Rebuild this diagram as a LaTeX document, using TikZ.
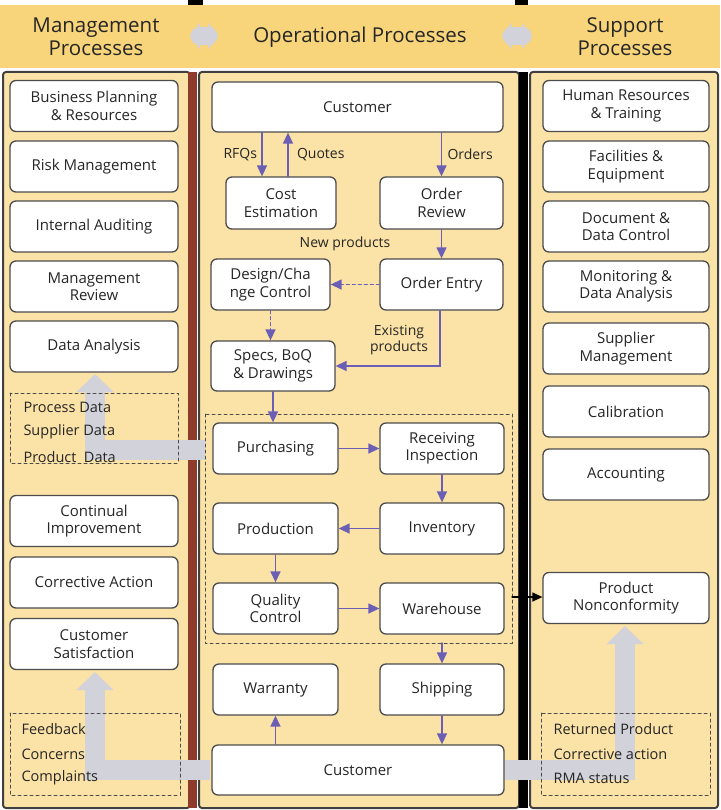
\documentclass[tikz,border=0pt]{standalone}
\usepackage{fontspec}
\setmainfont{Open Sans}
\usetikzlibrary{arrows.meta}
\definecolor{bandyellow}{HTML}{F8D57A}
\definecolor{coly}{HTML}{FBE2A6}
\definecolor{flow}{HTML}{6B5FB5}
\definecolor{greyarrow}{HTML}{D2D2DA}
\definecolor{brownbar}{HTML}{8E3B2C}
\begin{document}
\begin{tikzpicture}
		[x=1pt,y=-1pt,line cap=round,
		%Styles
		column/.style={fill=coly,draw=black!75,line width=2pt,rounded corners=3},
		head text/.style={font=\fontsize{20.5}{23}\selectfont,align=center,text=black!85},
		step box/.style={draw=black!70,line width=1.3pt,fill=white,rounded corners=6,
			align=center,inner sep=1pt,font=\fontsize{15}{17.5}\selectfont,text=black!85},
		data box/.style={draw=black!70,dashed,line width=1pt},
		data text/.style={anchor=west,font=\fontsize{14.5}{16}\selectfont,text=black!85},
		flow/.style={-{Triangle[length=11pt,width=10pt]},draw=flow,line width=1.4pt},
		label text/.style={font=\fontsize{14}{15.5}\selectfont,text=black!85,align=center},
		big arrow/.style={draw=greyarrow,line width=20pt,line cap=butt,
			-{Triangle[length=18pt,width=36pt]}}
		]
		\useasboundingbox (0,0) rectangle (720,810);
		\fill[white] (0,0) rectangle (720,810);
		
		%Header band
		\fill[bandyellow] (0,5) rectangle (720,68);
		\draw[greyarrow,line width=18pt,{Triangle[length=10pt,width=26pt]}-{Triangle[length=10pt,width=26pt]}] (190,36) -- (218,36);
		\draw[greyarrow,line width=18pt,{Triangle[length=10pt,width=26pt]}-{Triangle[length=10pt,width=26pt]}] (502,36) -- (532,36);
		\fill[black] (188,0) rectangle (203,5);
		\fill[black] (515,0) rectangle (528,5);
		\node[head text] (hman) at (96,37) {Management\\Processes};
		\node[head text] (hop) at (360,37) {Operational Processes};
		\node[head text] (hsup) at (625,37) {Support\\Processes};
		
		%Columns
		\draw[column] (3,72) rectangle (190,808);
		\fill[brownbar] (188,72) rectangle (197,808);
		\draw[column] (199,72) rectangle (519,808);
		\fill[black] (519,72) rectangle (528,808);
		\draw[column] (530,72) rectangle (718,808);
		
		%Grey feedback arrows
		\draw[big arrow] (210,770) -- (95,770) -- (95,672);
		\draw[big arrow] (505,770) -- (625,770) -- (625,626);
		\draw[big arrow] (205,450) -- (95,450) -- (95,374);
		
		%Dashed groups
		\draw[data box] (10,393) rectangle (178,463);
		\draw[data box] (10,713) rectangle (180,795);
		\draw[data box] (541,713) rectangle (710,795);
		\draw[data box] (205,414) rectangle (512,643);
		
		\node[data text] (d1) at (20,407) {Process Data};
		\node[data text] (d2) at (20,432) {Supplier Data};
		\node[data text] (d3) at (20,457) {Product\ \ Data};
		\node[data text] (f1) at (18,729) {Feedback};
		\node[data text] (f2) at (18,754) {Concerns};
		\node[data text] (f3) at (18,778) {Complaints};
		\node[data text] (r1) at (550,729) {Returned Product};
		\node[data text] (r2) at (550,754) {Corrective action};
		\node[data text] (r3) at (550,778) {RMA status};
		
		%Management processes
		\foreach \y/\name/\txt in {106/bpr/{Business Planning\\\& Resources},
			166.5/risk/{Risk Management},
			226.5/audit/{Internal Auditing},
			286.5/mreview/{Management\\Review},
			346.5/danal/{Data Analysis},
			521/cimp/{Continual\\Improvement},
			582.5/corr/{Corrective Action},
			644/csat/{Customer\\Satisfaction}}
			\node[step box,minimum width=168pt,minimum height=51pt] (\name) at (94,\y) {\txt};
		
		%Support processes
		\foreach \y/\name/\txt in {106/hrt/{Human Resources\\\& Training},
			166.5/facil/{Facilities \&\\Equipment},
			226.5/docc/{Document \&\\Data Control},
			286.5/monit/{Monitoring \&\\Data Analysis},
			348.5/suppm/{Supplier\\Management},
			411.5/calib/{Calibration},
			474.5/acct/{Accounting},
			598/pnc/{Product\\Nonconformity}}
			\node[step box,minimum width=166pt,minimum height=51pt] (\name) at (626,\y) {\txt};
		
		%Operational processes
		\node[step box,minimum width=291pt,minimum height=50pt] (custtop) at (357.5,107) {Customer};
		\node[step box,minimum width=110pt,minimum height=52pt] (cost) at (281,203) {Cost\\Estimation};
		\node[step box,minimum width=123pt,minimum height=52pt] (orev) at (441.5,203) {Order\\Review};
		\node[step box,minimum width=119pt,minimum height=51pt] (design) at (270.5,284.5) {Design/Cha\\nge Control};
		\node[step box,minimum width=123pt,minimum height=51pt] (oentry) at (441.5,284.5) {Order Entry};
		\node[step box,minimum width=124pt,minimum height=50pt] (specs) at (273,366) {Specs, BoQ\\\& Drawings};
		\node[step box,minimum width=125pt,minimum height=51pt] (purch) at (275.5,448.5) {Purchasing};
		\node[step box,minimum width=124pt,minimum height=51pt] (recv) at (442,448.5) {Receiving\\Inspection};
		\node[step box,minimum width=125pt,minimum height=51pt] (prod) at (275.5,528.5) {Production};
		\node[step box,minimum width=124pt,minimum height=51pt] (inv) at (442,528.5) {Inventory};
		\node[step box,minimum width=125pt,minimum height=51pt] (qc) at (275.5,608.5) {Quality\\Control};
		\node[step box,minimum width=124pt,minimum height=51pt] (wh) at (442,608.5) {Warehouse};
		\node[step box,minimum width=125pt,minimum height=51pt] (warr) at (275.5,689.5) {Warranty};
		\node[step box,minimum width=124pt,minimum height=51pt] (ship) at (442,689.5) {Shipping};
		\node[step box,minimum width=292pt,minimum height=50pt] (custbot) at (358,770) {Customer};
		
		\coordinate (whout) at (442,643);
		\coordinate (grpright) at (512,597);
		\coordinate (bend) at (440,366);
		
		\draw[flow] (custtop.south -| 262,0) -- (cost.north -| 262,0) node[label text,midway,left=1pt] {RFQs};
		\draw[flow] (cost.north -| 288,0) -- (custtop.south -| 288,0) node[label text,midway,right=5pt] {Quotes};
		\draw[flow] (custtop.south -| orev.north) -- (orev.north) node[label text,midway,right=2pt] {Orders};
		\draw[flow] (orev) -- (oentry);
		\draw[flow,dashed] (oentry) -- (design);
		\node[label text] (newprod) at (345,244) {New products};
		\draw[flow,dashed] (design) -- (design |- specs.north);
		\draw[flow] (oentry.south -| bend) -- (bend) -- (specs.east |- bend);
		\node[label text] (existing) at (399,340) {Existing\\products};
		\draw[flow] (specs) -- (specs |- purch.north);
		\draw[flow] (purch) -- (recv);
		\draw[flow] (recv) -- (inv);
		\draw[flow] (inv) -- (prod);
		\draw[flow] (prod) -- (qc);
		\draw[flow] (qc) -- (wh);
		\draw[flow] (whout) -- (ship);
		\draw[flow] (ship) -- (ship |- custbot.north);
		\draw[flow] (custbot.north -| warr) -- (warr);
		\draw[-{Triangle[length=10pt,width=9pt]},line width=1.3pt,black] (grpright) -- (pnc.west |- grpright);
	\end{tikzpicture}
\end{document}
